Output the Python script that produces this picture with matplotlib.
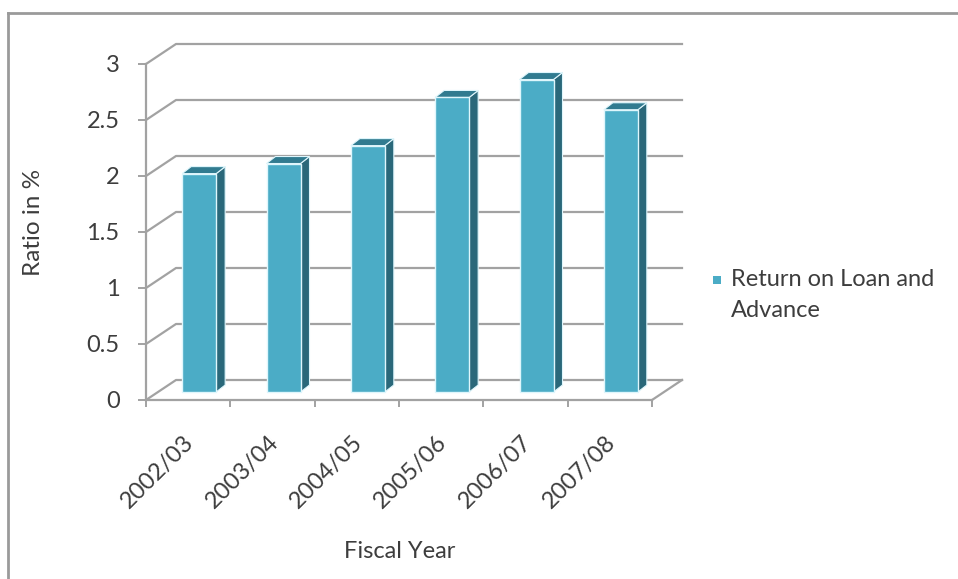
import matplotlib.pyplot as plt
from matplotlib.patches import Polygon
from matplotlib.lines import Line2D

# fiscal years and return on loan and advance (%)
years = ['2002/03', '2003/04', '2004/05', '2005/06', '2006/07', '2007/08']
ratios = [1.95, 2.04, 2.20, 2.63, 2.79, 2.52]
yticks = [0, 0.5, 1, 1.5, 2, 2.5, 3]
ytick_labels = ['0', '0.5', '1', '1.5', '2', '2.5', '3']

plt.rcParams['font.family'] = ['Lato', 'DejaVu Sans']
txt = '#3d3d3d'
grid = '#a2a2a2'
front = '#4bacc6'
side = '#2a687a'
top = '#317b90'
edge = '#dff6fc'
fs = 17

W, H = 958, 579
fig = plt.figure(figsize=(W / 100, H / 100), dpi=100)
# front plane of the 3d box, in pixels (left, right, bottom, top)
px0, px1, py0, py1 = 146, 652, 400, 64
ax = fig.add_axes([px0 / W, 1 - py0 / H, (px1 - px0) / W, (py0 - py1) / H])
ax.set_xlim(0, len(years))
ax.set_ylim(0, 3)

ux = len(years) / (px1 - px0)   # data units per pixel
uy = 3 / (py0 - py1)

# depth of the back wall and of the bars
wdx, wdy = 30 * ux, 20 * uy
boff_x, boff_y = 11 * ux, 8 * uy
bdx, bdy = 9 * ux, 7 * uy
bw = 34 * ux

# side wall diagonals + back wall gridlines
for t in yticks:
    ax.plot([0, wdx, len(years) + wdx], [t, t + wdy, t + wdy],
            color=grid, lw=1.6, clip_on=False, zorder=1)
# right edge of floor
ax.plot([len(years), len(years) + wdx], [0, wdy], color=grid, lw=1.6,
        clip_on=False, zorder=1)

xs = [i + 0.5 + boff_x for i in range(len(years))]
bars = ax.bar(xs, ratios, width=bw, bottom=boff_y, color=front,
              edgecolor=edge, linewidth=1.0, zorder=4, clip_on=False)

for xc, v in zip(xs, ratios):
    xl, xr = xc - bw / 2, xc + bw / 2
    yb, yt = boff_y, boff_y + v
    ax.add_patch(Polygon([(xr, yb), (xr + bdx, yb + bdy), (xr + bdx, yt + bdy), (xr, yt)],
                         closed=True, facecolor=side, edgecolor=edge, lw=0.8,
                         zorder=3, clip_on=False))
    ax.add_patch(Polygon([(xl, yt), (xl + bdx, yt + bdy), (xr + bdx, yt + bdy), (xr, yt)],
                         closed=True, facecolor=top, edgecolor=edge, lw=0.8,
                         zorder=3, clip_on=False))

for s in ['top', 'right']:
    ax.spines[s].set_visible(False)
for s in ['left', 'bottom']:
    ax.spines[s].set_color(grid)
    ax.spines[s].set_linewidth(1.6)

ax.set_yticks(yticks)
ax.set_yticklabels(ytick_labels)
ax.tick_params(axis='y', direction='out', length=6, width=1.4, color=grid,
               pad=13, labelsize=fs, labelcolor=txt)

ax.set_xticks(range(len(years) + 1))
ax.set_xticklabels([])
ax.tick_params(axis='x', which='major', direction='out', length=5, width=1.4, color=grid)
ax.set_xticks([i + 0.5 - 0.06 for i in range(len(years))], minor=True)
ax.set_xticklabels(years, minor=True, rotation=45, ha='right',
                   rotation_mode='anchor', fontsize=fs, color=txt)
ax.tick_params(axis='x', which='minor', length=0, pad=23)

ax.set_ylabel('Ratio in %', fontsize=fs + 0.5, color=txt)
ax.yaxis.set_label_coords((34 - px0) / (px1 - px0), (py0 - 222) / (py0 - py1))
ax.yaxis.label.set_va('center')
ax.set_xlabel('Fiscal Year', fontsize=fs, color=txt)
ax.xaxis.set_label_coords((400 - px0) / (px1 - px0), (py0 - 551) / (py0 - py1))
ax.xaxis.label.set_va('center')

# legend
fig.patches.append(plt.Rectangle((713 / W, 1 - 284 / H), 8 / W, 8 / H,
                                 transform=fig.transFigure, facecolor=front,
                                 edgecolor='none'))
fig.text(731 / W, 1 - 280 / H, 'Return on Loan and', fontsize=fs, color=txt,
         va='center', ha='left')
fig.text(731 / W, 1 - 311 / H, 'Advance', fontsize=fs, color=txt,
         va='center', ha='left')

# chart border
fig.lines.append(Line2D([8 / W, 8 / W], [0, 1 - 13 / H], transform=fig.transFigure,
                        color='#9a9a9a', lw=2))
fig.lines.append(Line2D([8 / W, 1], [1 - 13 / H, 1 - 13 / H], transform=fig.transFigure,
                        color='#9a9a9a', lw=2))

fig.savefig('out.png', dpi=100)
